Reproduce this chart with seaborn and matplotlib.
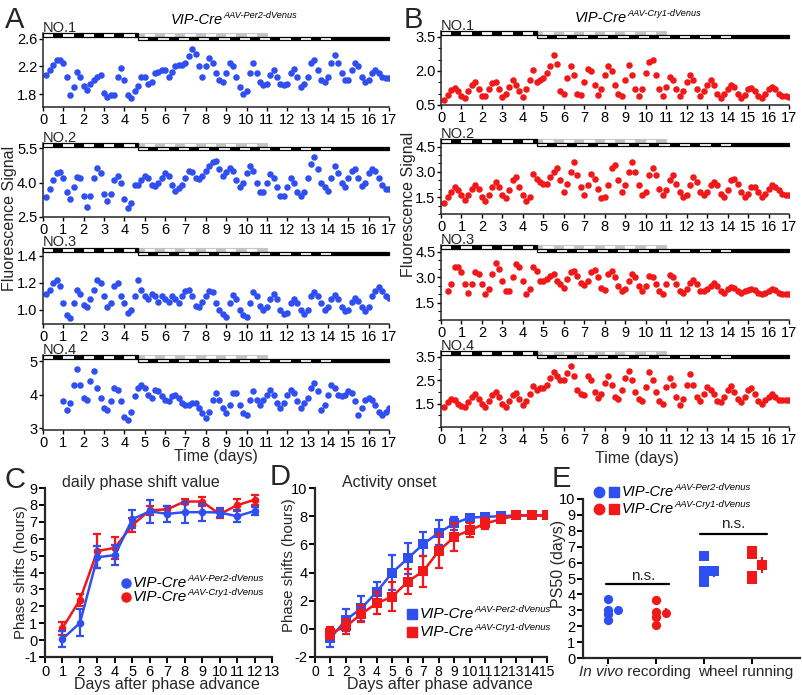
import numpy as np
import matplotlib
matplotlib.use("Agg")
import matplotlib.pyplot as plt
import matplotlib.transforms as mtrans
from matplotlib.patches import Rectangle
import seaborn as sns

# ---------------- data ----------------
STEPS_PER_DAY = 6          # one value every 4 h
nan = np.nan
days_total = 17

# Panel A (VIP-Cre AAV-Per2-dVenus), values every 4 h from day 0
a_no1 = [nan, 2.08, 2.15, 2.22, 2.30, 2.30,
         2.25, 2.05, 1.78, 1.90, 2.12, 2.05,
         1.92, 1.86, 1.95, 2.00, 2.05, 2.08,
         1.82, 1.76, 1.78, 1.78, 2.05, 2.18,
         2.00, 1.78, 1.74, 1.85, 1.92, 2.05,
         2.05, 1.95, 1.97, 2.10, 2.12, 2.15,
         2.15, 2.05, 2.12, 2.20, 2.22, 2.22,
         2.25, 2.35, 2.45, 2.38, 2.20, 2.05,
         2.20, 2.32, 2.25, 2.10, 2.00, 1.98,
         2.10, 2.25, 2.20, 2.05, 1.90, 1.80,
         1.85, 2.10, 2.25, 2.10, 1.98, 1.93,
         1.95, 2.08, 2.15, 2.05, 1.95, 1.93,
         1.95, 2.10, 2.17, 2.05, 1.90, 1.95,
         2.05, 2.25, 2.30, 2.15, 2.00, 1.98,
         2.05, 2.25, 2.37, 2.25, 2.10, 2.00,
         2.00, 2.15, 2.25, 2.20, 2.05, 1.98,
         2.00, 2.10, 2.15, 2.10, 2.05, 2.03,
         2.03]
a_no2 = [nan, 3.35, 3.70, 4.10, 4.40, 4.45,
         4.20, 3.60, 3.30, 3.80, 4.25, 4.20,
         3.40, 2.95, 3.40, 4.20, 4.65, 4.40,
         3.50, 3.20, 3.50, 4.10, 4.30, 4.00,
         3.30, 2.90, 3.10, 3.90, 3.90, 4.10,
         4.30, 4.20, 3.90, 3.85, 4.00, 4.20,
         4.40, 4.30, 3.90, 3.65, 3.75, 3.90,
         4.20, 4.50, 4.45, 4.20, 4.15, 4.30,
         4.50, 4.70, 4.90, 4.95, 4.60, 4.30,
         4.45, 4.65, 4.50, 4.10, 3.80, 4.00,
         4.40, 4.70, 4.50, 4.00, 3.60, 3.60,
         4.00, 4.35, 4.20, 3.80, 3.40, 3.40,
         3.80, 4.20, 4.00, 3.60, 3.40, 3.60,
         4.20, 4.80, 5.10, 4.60, 4.00, 3.80,
         3.65, 4.20, 4.70, 4.40, 4.00, 3.80,
         4.20, 4.50, 4.60, 4.20, 3.85, 4.00,
         4.40, 4.60, 4.50, 4.20, 3.90, 3.70,
         3.70]
a_no3 = [nan, 1.12, 1.15, 1.20, 1.22, 1.18,
         1.05, 0.96, 0.94, 1.05, 1.15, 1.12,
         1.04, 1.02, 1.08, 1.15, 1.22, 1.20,
         1.10, 1.02, 1.05, 1.18, 1.20, 1.10,
         1.05, 0.98, 1.00, 1.10, 1.22, 1.15,
         1.10, 1.08, 1.12, 1.10, 1.06, 1.10,
         1.08, 1.06, 1.10, 1.08, 1.05, 1.10,
         1.14, 1.15, 1.10, 1.03, 1.02, 1.06,
         1.10, 1.14, 1.13, 1.05, 1.00, 0.97,
         0.95, 1.05, 1.11, 1.08, 1.00, 0.96,
         0.95, 1.05, 1.13, 1.10, 1.03, 1.00,
         1.02, 1.08, 1.12, 1.08, 1.00, 0.97,
         0.98, 1.05, 1.08, 1.05, 1.00, 0.97,
         1.00, 1.10, 1.13, 1.10, 1.05, 1.00,
         1.02, 1.08, 1.11, 1.08, 1.02, 0.99,
         1.00, 1.06, 1.09, 1.07, 1.02, 0.99,
         1.02, 1.10, 1.14, 1.17, 1.14, 1.10,
         1.09]
a_no4 = [nan, nan, nan, nan, nan, nan,
         3.80, 3.55, 3.75, 4.30, 4.75, 4.30,
         3.90, 3.85, 4.40, 4.70, 4.20, 3.90,
         3.60, 3.55, 3.80, 4.20, 4.15, 3.80,
         3.35, 3.25, 3.50, 3.95, 4.20, 4.30,
         4.20, 4.00, 3.90, 4.15, 4.10, 3.95,
         3.85, 3.80, 3.95, 4.00, 3.90, 3.75,
         3.70, 3.70, 3.75, 3.75, 3.60, 3.45,
         3.30, 3.50, 3.85, 4.05, 3.85, 3.60,
         3.45, 3.70, 4.05, 4.05, 3.70, 3.45,
         3.40, 3.85, 4.10, 3.85, 3.70, 3.85,
         4.00, 4.15, 4.00, 3.75, 3.60, 3.75,
         4.00, 4.15, 4.05, 3.80, 3.60, 3.75,
         3.90, 4.20, 4.35, 4.10, 3.55, 3.70,
         4.00, 4.30, 4.20, 4.00, 3.95, 4.00,
         4.10, 4.05, 3.80, 3.40, 3.60, 3.85,
         3.90, 3.85, 3.70, 3.50, 3.40, 3.50,
         3.60]

# Panel B (VIP-Cre AAV-Cry1-dVenus)
b_no1 = [nan, 0.72, 0.95, 1.15, 1.23, 1.10,
         0.90, 0.80, 1.10, 1.40, 1.53, 1.20,
         0.90, 0.90, 1.20, 1.45, 1.50, 1.20,
         0.87, 1.00, 1.30, 1.60, 1.40, 1.10,
         0.87, 1.20, 1.60, 2.05, 1.50, 1.60,
         1.67, 1.90, 2.20, 2.70, 2.30, 1.10,
         1.00, 1.70, 2.20, 1.80, 1.00, 0.95,
         1.50, 2.10, 2.00, 1.40, 0.95, 1.20,
         1.80, 2.20, 2.00, 1.40, 1.00, 0.90,
         1.60, 2.25, 1.80, 1.20, 0.90, 1.20,
         1.90, 2.40, 2.50, 1.80, 1.20, 0.90,
         1.30, 1.75, 1.60, 1.20, 0.90, 1.10,
         1.50, 1.82, 1.60, 1.20, 0.88, 1.10,
         1.40, 1.60, 1.40, 1.00, 0.82, 1.00,
         1.20, 1.38, 1.30, 1.00, 0.82, 0.95,
         1.20, 1.23, 1.10, 0.90, 0.82, 1.00,
         1.20, 1.28, 1.20, 1.00, 0.90, 0.88,
         0.87]
b_no2 = [nan, 1.15, 1.50, 1.80, 2.10, 1.90,
         1.60, 1.33, 1.60, 2.00, 2.20, 2.00,
         1.50, 1.25, 1.60, 2.10, 2.40, 2.10,
         1.60, 1.45, 1.90, 2.50, 2.70, 2.10,
         1.60, 1.30, 1.50, 2.90, 2.60, 2.40,
         2.30, 2.30, 2.70, 3.00, 3.20, 2.50,
         1.80, 2.30, 3.00, 3.60, 2.80, 2.10,
         1.60, 2.20, 2.90, 2.60, 2.00, 1.45,
         1.50, 2.20, 3.20, 3.40, 2.50, 1.80,
         2.20, 3.00, 3.60, 3.00, 2.20, 1.60,
         1.80, 2.80, 3.20, 2.80, 2.00, 1.60,
         1.90, 2.50, 2.80, 2.30, 1.80, 1.50,
         1.60, 2.20, 2.70, 2.40, 1.80, 1.60,
         1.80, 2.20, 2.40, 2.20, 1.70, 1.50,
         1.90, 2.50, 2.60, 2.30, 1.80, 1.50,
         1.70, 2.10, 2.10, 1.80, 1.50, 1.70,
         2.00, 2.20, 2.10, 1.90, 1.70, 1.60,
         1.60]
b_no3 = [nan, nan, 2.20, 2.60, 3.60, 3.60,
         3.30, 2.60, 2.10, 2.60, 3.30, 3.20,
         2.60, 2.00, 2.30, 3.20, 3.85, 3.50,
         2.80, 2.20, 2.20, 3.00, 3.80, 3.60,
         2.80, 2.00, 2.30, 3.60, 3.40, 2.80,
         2.80, 2.90, 3.10, 3.20, 2.80, 2.60,
         2.40, 2.90, 3.30, 3.40, 3.10, 2.70,
         2.55, 2.80, 3.30, 3.45, 3.00, 2.40,
         2.25, 3.20, 3.40, 3.00, 2.50, 2.20,
         2.30, 2.80, 3.20, 3.00, 2.50, 2.20,
         2.50, 3.10, 3.00, 2.60, 2.20, 2.05,
         2.60, 3.15, 3.00, 2.60, 2.20, 2.10,
         2.30, 2.70, 2.85, 2.60, 2.20, 2.20,
         2.30, 2.50, 2.70, 2.50, 2.20, 2.10,
         2.30, 2.45, 2.40, 2.20, 2.10, 2.20,
         2.25, 2.30, 2.25, 2.10, 2.00, 2.10,
         2.20, 2.30, 2.25, 2.10, 2.05, 2.00,
         2.00]
b_no4 = [nan, 1.35, 1.55, 1.70, 1.65, 1.50,
         1.38, 1.35, 1.55, 1.80, 1.90, 1.70,
         1.50, 1.35, 1.60, 1.85, 2.00, 1.80,
         1.50, 1.35, 1.60, 1.85, 1.95, 1.70,
         1.45, 1.60, 1.90, 2.25, 2.10, 2.15,
         2.15, 2.30, 2.60, 2.85, 2.70, 2.50,
         2.50, 2.80, 3.10, 2.70, 2.10, 1.90,
         1.85, 2.70, 2.50, 2.00, 1.75, 1.90,
         2.40, 2.70, 2.30, 1.80, 1.70, 2.10,
         2.60, 2.90, 2.50, 2.00, 1.70, 1.60,
         2.20, 2.85, 2.50, 2.00, 1.60, 1.50,
         2.20, 2.60, 2.30, 1.80, 1.45, 1.70,
         2.30, 2.75, 2.30, 1.80, 1.60, 1.90,
         2.20, 2.10, 1.90, 1.60, 1.55, 1.80,
         2.10, 2.25, 2.00, 1.70, 1.55, 1.80,
         2.10, 2.15, 1.90, 1.60, 1.50, 1.65,
         1.80, 1.90, 1.80, 1.65, 1.65, 1.65,
         1.65]

# light schedule (days)
LD_END = 4.67        # last day of old LD schedule
GHOST_END = 11.0     # old schedule drawn in grey until here
DD_START = 14.17     # constant darkness from here
ADVANCE_H = 8        # phase advance in hours

# Panel C: daily phase shift value
c_days = list(range(1, 13))
c_per2 = [0.06, 1.02, 4.90, 5.03, 7.15, 7.62, 7.47, 7.57, 7.57, 7.55, 7.33, 7.64]
c_per2_err = [0.45, 0.8, 0.64, 0.57, 0.54, 0.69, 0.49, 0.62, 0.5, 0.27, 0.34, 0.25]
c_cry1 = [0.71, 2.38, 5.27, 5.46, 6.80, 7.68, 7.74, 8.20, 8.20, 7.45, 7.98, 8.30]
c_cry1_err = [0.39, 0.35, 1.0, 0.64, 0.4, 0.25, 0.2, 0.15, 0.27, 0.23, 0.34, 0.31]

# Panel D: activity onset
d_days = list(range(1, 16))
d_per2 = [-0.66, 0.64, 1.46, 2.64, 4.00, 5.00, 6.02, 6.82, 7.48, 7.90, 7.95, 8.00, 8.05, 8.05, 8.05]
d_per2_err = [0.65, 0.8, 0.9, 0.7, 1.25, 1.1, 0.85, 0.9, 0.45, 0.2, 0.15, 0.15, 0.15, 0.15, 0.15]
d_cry1 = [-0.30, 0.17, 1.06, 1.82, 2.29, 3.35, 4.10, 5.52, 6.53, 7.00, 7.48, 7.78, 8.05, 8.05, 8.05]
d_cry1_err = [0.45, 0.55, 0.6, 0.8, 1.0, 0.9, 1.1, 1.2, 1.0, 0.5, 0.4, 0.25, 0.15, 0.15, 0.15]

# Panel E: PS50
e_groups = ["In vivo recording", "wheel running"]
e_vivo_per2 = [3.70, 3.00, 2.75, 2.40]
e_vivo_cry1 = [3.65, 2.90, 2.60, 2.10]
e_wheel_per2 = [6.40, 5.50, 5.00, 4.80]
e_wheel_cry1 = [6.70, 6.55, 5.15, 4.95]
e_means = [3.00, 2.82, 5.45, 5.87]
e_sd = [0.3, 0.3, 0.35, 0.5]

# ---------------- style ----------------
W, H = 802, 695
BLUE = "#2f4ff0"
RED = "#f01818"
sns.set_theme(style="ticks")
plt.rcParams['font.family'] = ['Liberation Sans', 'DejaVu Sans']
plt.rcParams['axes.unicode_minus'] = False
plt.rcParams['axes.linewidth'] = 1.1
plt.rcParams['xtick.color'] = 'black'
plt.rcParams['ytick.color'] = 'black'

fig = plt.figure(figsize=(W / 100, H / 100), dpi=100)


def px_rect(l, t, r, b):
    return [l / W, 1 - b / H, (r - l) / W, (b - t) / H]


ov = fig.add_axes([0, 0, 1, 1], zorder=20)
ov.set_xlim(0, W)
ov.set_ylim(H, 0)
ov.axis('off')
ov.patch.set_alpha(0)


def sup_text(x, y, main, sup, size, sup_size, color='black', ha='left'):
    t = ov.text(x, y, main, fontsize=size, style='italic', ha=ha, va='center', color=color)
    ov.annotate(sup, xy=(1.0, 0.5), xycoords=t, fontsize=sup_size, style='italic',
                ha='left', va='bottom', color=color)
    return t


def light_bar(ax, axh_px):
    tr = mtrans.blended_transform_factory(ax.transData, ax.transAxes)
    rh = 3.6 / axh_px
    up, lo = 1 - rh, 1 - 2 * rh
    kw = dict(transform=tr, clip_on=False, zorder=6)
    # ghost (old schedule, grey)
    ax.add_patch(Rectangle((LD_END, up), GHOST_END - LD_END, rh, facecolor='white',
                           edgecolor='#c8c8c8', lw=0.8, **kw))
    for k in range(4, int(GHOST_END)):
        s, e = max(k + 0.5, LD_END), min(k + 1.0, GHOST_END)
        if e > s:
            ax.add_patch(Rectangle((s, up), e - s, rh, facecolor='#c4c4c4', lw=0, **kw))
    # old LD schedule
    ax.add_patch(Rectangle((0, up), LD_END, rh, facecolor='white', edgecolor='black', lw=0.9, **kw))
    for k in range(0, 5):
        s, e = k + 0.5, min(k + 1.0, LD_END)
        if e > s:
            ax.add_patch(Rectangle((s, up), e - s, rh, facecolor='black', lw=0, **kw))
    # new (advanced) schedule
    adv = ADVANCE_H / 24
    ax.add_patch(Rectangle((LD_END, lo), days_total - LD_END, rh, facecolor='white',
                           edgecolor='black', lw=0.9, **kw))
    for k in range(5, days_total):
        s, e = k + 0.5 - adv, k + 1.0 - adv
        if s >= LD_END - 0.01 and e <= DD_START + 0.01:
            ax.add_patch(Rectangle((s, lo), e - s, rh, facecolor='black', lw=0, **kw))
    ax.add_patch(Rectangle((DD_START, lo), days_total - DD_START, rh, facecolor='black', lw=0, **kw))


t_grid = np.arange(days_total * STEPS_PER_DAY + 1) / STEPS_PER_DAY

trace_specs = [
    (a_no1, "NO.1", (43, 33, 389, 107), (1.611, 2.687), [1.8, 2.2, 2.6], "{:.1f}", BLUE, None),
    (a_no2, "NO.2", (43, 143, 389, 217), (2.5, 5.72), [2.5, 4.0, 5.5], "{:.1f}", BLUE, None),
    (a_no3, "NO.3", (43, 248, 389, 324), (0.896, 1.459), [1.0, 1.2, 1.4], "{:.1f}", BLUE, None),
    (a_no4, "NO.4", (43, 355, 389, 430), (2.95, 5.18), [3, 4, 5], "{:.0f}", BLUE, None),
    (b_no1, "NO.1", (441, 31, 789, 105), (0.5, 3.76), [0.5, 2.0, 3.5], "{:.1f}", RED, 0.5),
    (b_no2, "NO.2", (441, 139, 789, 214), (0.54, 4.95), [1.5, 3.0, 4.5], "{:.1f}", RED, 0.5),
    (b_no3, "NO.3", (441, 245, 789, 320), (1.5, 4.91), [1.5, 3.0, 4.5], "{:.1f}", RED, 0.5),
    (b_no4, "NO.4", (441, 351, 789, 427), (0.99, 3.75), [1.5, 2.5, 3.5], "{:.1f}", RED, 0.5),
]

for vals, name, (l, tp, r, b), ylim, yt, fmt, col, minor in trace_specs:
    ax = fig.add_axes(px_rect(l, tp, r, b))
    v = np.array(vals, dtype=float)
    m = ~np.isnan(v)
    sns.scatterplot(x=t_grid[m], y=v[m], ax=ax, color=col, s=22, linewidth=0, legend=False)
    ax.set_xlim(0, 17)
    ax.set_ylim(*ylim)
    ax.set_xticks(range(0, 18))
    ax.set_yticks(yt)
    ax.set_yticklabels([fmt.format(y) for y in yt])
    if minor:
        ax.set_yticks(np.arange(0.5, ylim[1], minor), minor=True)
        ax.tick_params(axis='y', which='minor', length=2, width=0.8)
    ax.tick_params(axis='both', which='major', length=3, width=1, pad=1.0, labelsize=10.5)
    ax.spines['top'].set_visible(False)
    ax.spines['right'].set_visible(False)
    ax.set_xlabel("")
    ax.set_ylabel("")
    light_bar(ax, b - tp)
    ov.text(l, tp - 1.5, name, fontsize=10.5, ha='left', va='baseline')

# panel labels / titles for A and B
for letter, x, y in [("A", 5, 28), ("B", 404, 28), ("C", 4, 488), ("D", 270, 485), ("E", 552, 487)]:
    ov.text(x, y, letter, fontsize=21, ha='left', va='baseline')
sup_text(171, 20, "VIP-Cre", "AAV-Per2-dVenus", 10.5, 6.6)
sup_text(575, 18, "VIP-Cre", "AAV-Cry1-dVenus", 10.5, 6.6)
ov.text(10, 218, "Fluorescence Signal", fontsize=11.5, rotation=90, ha='center', va='center')
ov.text(408, 204, "Fluorescence Signal", fontsize=11.5, rotation=90, ha='center', va='center')
ov.text(216, 456, "Time (days)", fontsize=11.5, ha='center', va='center')
ov.text(637, 459, "Time (days)", fontsize=11.5, ha='center', va='center')


def style_summary(ax):
    ax.spines['top'].set_visible(False)
    ax.spines['right'].set_visible(False)
    for s in ('left', 'bottom'):
        ax.spines[s].set_linewidth(1.6)
    ax.tick_params(axis='both', length=4, width=1.4, pad=1.5, labelsize=10.5)
    ax.set_xlabel("")
    ax.set_ylabel("")


# ---------------- Panel C ----------------
axc = fig.add_axes(px_rect(45, 488, 272, 657))
for yv, ye, col in [(c_cry1, c_cry1_err, RED), (c_per2, c_per2_err, BLUE)]:
    axc.errorbar(c_days, yv, yerr=ye, fmt='none', ecolor=col, elinewidth=1.6, capsize=3, capthick=1.6)
    sns.lineplot(x=c_days, y=yv, ax=axc, color=col, marker='o', markersize=5.5,
                 markeredgewidth=0, linewidth=1.8)
axc.set_xlim(0, 13)
axc.set_ylim(-1, 9)
axc.set_xticks(range(0, 14))
axc.set_yticks(range(-1, 10))
style_summary(axc)
ov.text(62, 483, "daily phase shift value", fontsize=11.5, ha='left', va='center')
ov.plot([126], [583], 'o', color=BLUE, ms=6.5)
ov.plot([126], [597], 'o', color=RED, ms=6.5)
sup_text(133, 583, "VIP-Cre", "AAV-Per2-dVenus", 11, 6.8)
sup_text(133, 597, "VIP-Cre", "AAV-Cry1-dVenus", 11, 6.8)
ov.text(167, 685, "Days after phase advance", fontsize=11.5, ha='center', va='center')
ov.text(21, 572, "Phase shifts (hours)", fontsize=10.8, rotation=90, ha='center', va='center')

# ---------------- Panel D ----------------
axd = fig.add_axes(px_rect(315, 488, 547, 657))
for yv, ye, col in [(d_per2, d_per2_err, BLUE), (d_cry1, d_cry1_err, RED)]:
    axd.errorbar(d_days, yv, yerr=ye, fmt='none', ecolor=col, elinewidth=1.6, capsize=3, capthick=1.6)
    sns.lineplot(x=d_days, y=yv, ax=axd, color=col, marker='s', markersize=6.5,
                 markeredgewidth=0, linewidth=1.8)
axd.set_xlim(0, 15)
axd.set_ylim(-2, 10)
axd.set_xticks(range(0, 16))
axd.set_yticks(range(-2, 11, 2))
style_summary(axd)
axd.tick_params(axis='x', labelsize=10)
ov.text(342, 482, "Activity onset", fontsize=11.5, ha='left', va='center')
ov.plot([412], [614], 's', color=BLUE, ms=7)
ov.plot([412], [632], 's', color=RED, ms=7)
sup_text(420, 614, "VIP-Cre", "AAV-Per2-dVenus", 11, 6.8)
sup_text(420, 632, "VIP-Cre", "AAV-Cry1-dVenus", 11, 6.8)
ov.text(440, 685, "Days after phase advance", fontsize=11.5, ha='center', va='center')
ov.text(289, 565, "Phase shifts (hours)", fontsize=10.8, rotation=90, ha='center', va='center')

# ---------------- Panel E ----------------
axe = fig.add_axes(px_rect(583, 499, 800, 658))
e_pos = [1, 2, 3, 4]
e_sets = [(e_vivo_per2, 'o', BLUE), (e_vivo_cry1, 'o', RED),
          (e_wheel_per2, 's', BLUE), (e_wheel_cry1, 's', RED)]
for p, (vals, mk, col), mu, sd in zip(e_pos, e_sets, e_means, e_sd):
    sns.scatterplot(x=[p] * len(vals), y=vals, ax=axe, marker=mk, color=col,
                    s=45 if mk == 'o' else 55, linewidth=0, legend=False, clip_on=False)
    axe.errorbar([p + 0.21], [mu], yerr=[sd], fmt=mk, color=col, ms=6.5 if mk == 'o' else 7,
                 mew=0, elinewidth=1.5, capsize=2.5, capthick=1.5)
axe.plot([0.96, 2.27], [4.65, 4.65], color='black', lw=1.6)
axe.plot([2.92, 4.31], [7.8, 7.8], color='black', lw=1.6)
axe.text(1.73, 5.15, "n.s.", fontsize=11, ha='center', va='center')
axe.text(3.6, 8.4, "n.s.", fontsize=11, ha='center', va='center')
axe.set_xlim(0.48, 5.0)
axe.set_ylim(0, 10)
axe.set_xticks(e_pos)
axe.set_xticklabels([])
axe.set_yticks(range(0, 11))
style_summary(axe)
ov.plot([599], [492], 'o', color=BLUE, ms=7.5)
ov.plot([614], [492], 's', color=BLUE, ms=7)
ov.plot([599], [509], 'o', color=RED, ms=7.5)
ov.plot([614], [509], 's', color=RED, ms=7)
sup_text(622, 492, "VIP-Cre", "AAV-Per2-dVenus", 10.5, 6.8)
sup_text(622, 509, "VIP-Cre", "AAV-Cry1-dVenus", 10.5, 6.8)
t_iv = ov.text(579, 672, "In vivo", fontsize=11, style='italic', ha='left', va='center')
ov.annotate(" recording", xy=(1, 0.5), xycoords=t_iv, fontsize=11, ha='left', va='center')
ov.text(746, 672, e_groups[1], fontsize=11, ha='center', va='center')
ov.text(559, 564, "PS50 (days)", fontsize=11.5, rotation=90, ha='center', va='center')

fig.savefig("out.png", dpi=100)
